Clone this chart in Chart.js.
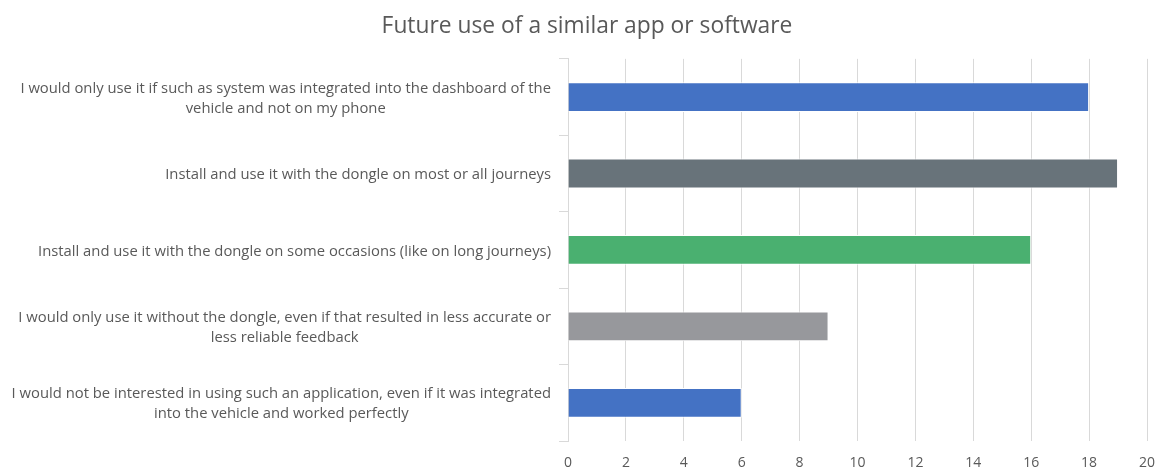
<!DOCTYPE html>
<html>
<head>
<meta charset="utf-8">
<script src="https://cdn.jsdelivr.net/npm/chart.js@4"></script>
<style>
  html, body { margin: 0; padding: 0; background: #ffffff; }
  #wrap { width: 1159px; height: 471px; }
</style>
</head>
<body>
<div id="wrap"><canvas id="c" width="1159" height="471"></canvas></div>
<script>
const titleText = 'Future use of a similar app or software';
const categories = [
  ['I would only use it if such as system was integrated into the dashboard of the', 'vehicle and not on my phone'],
  ['Install and use it with the dongle on most or all journeys'],
  ['Install and use it with the dongle on some occasions (like on long journeys)'],
  ['I would only use it without the dongle, even if that resulted in less accurate or', 'less reliable feedback'],
  ['I would not be interested in using such an application, even if it was integrated', 'into the vehicle and worked perfectly']
];
const values = [18, 19, 16, 9, 6];
const barColors = ['#4472C4', '#68737A', '#4AB070', '#97989C', '#4472C4'];
const xMin = 0, xMax = 20, xStep = 2;

const FONT = '"Open Sans", sans-serif';
const TEXT = '#595959';

const labelPlugin = {
  id: 'blockLabels',
  afterDraw(chart) {
    const ctx = chart.ctx;
    const ys = chart.scales.y;
    const right = chart.chartArea.left - 17;
    ctx.save();
    ctx.font = '14.8px ' + FONT;
    ctx.fillStyle = TEXT;
    ctx.textAlign = 'center';
    ctx.textBaseline = 'middle';
    const lh = 20;
    categories.forEach((lines, i) => {
      const yc = ys.getPixelForValue(i) + 1.5;
      const w = Math.max(...lines.map(l => ctx.measureText(l).width));
      const cx = right - w / 2;
      const y0 = yc - (lines.length - 1) * lh / 2;
      lines.forEach((l, k) => ctx.fillText(l, cx, y0 + k * lh));
    });
    ctx.restore();
  }
};

new Chart(document.getElementById('c'), {
  type: 'bar',
  data: {
    labels: categories.map(c => c.join(' ')),
    datasets: [{
      data: values,
      backgroundColor: barColors,
      borderColor: '#ffffff',
      borderWidth: 1,
      barPercentage: 0.39,
      categoryPercentage: 1.0
    }]
  },
  options: {
    indexAxis: 'y',
    responsive: false,
    animation: false,
    layout: { padding: { left: 16, right: 1, top: 0, bottom: 0 } },
    plugins: {
      legend: { display: false },
      tooltip: { enabled: false },
      title: {
        display: true,
        text: titleText,
        color: TEXT,
        font: { family: FONT, size: 22.8, weight: 'normal' },
        padding: { top: 12.5, bottom: 19 }
      }
    },
    scales: {
      x: {
        min: xMin, max: xMax,
        ticks: { stepSize: xStep, color: TEXT, font: { family: FONT, size: 14 }, padding: 14 },
        grid: { color: '#D9D9D9', drawTicks: false, lineWidth: 1 },
        border: { display: false },
        afterFit(s) { s.height = 30; s.paddingLeft = 0; s.paddingRight = 12; }
      },
      y: {
        ticks: { display: false },
        grid: { drawOnChartArea: false, color: '#D9D9D9', tickLength: 9, offset: true },
        border: { display: true, color: '#D9D9D9' },
        afterFit(s) { s.width = 552; }
      }
    }
  },
  plugins: [labelPlugin]
});
</script>
</body>
</html>
